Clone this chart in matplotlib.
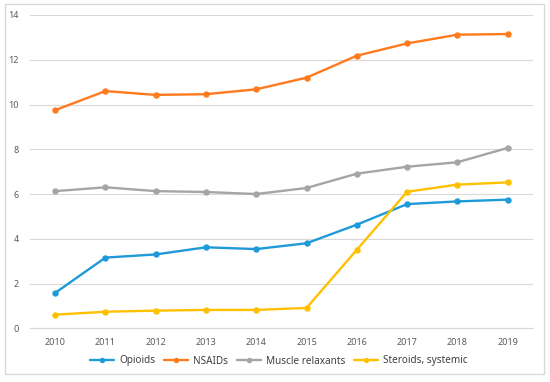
import matplotlib
matplotlib.use("Agg")
import matplotlib.pyplot as plt
from matplotlib.patches import Rectangle

plt.rcParams['font.family'] = ['Noto Sans', 'DejaVu Sans']

years = ["2010", "2011", "2012", "2013", "2014", "2015", "2016", "2017", "2018", "2019"]
opioids = [1.58, 3.16, 3.30, 3.62, 3.54, 3.80, 4.63, 5.55, 5.67, 5.75]
nsaids = [9.75, 10.60, 10.43, 10.46, 10.68, 11.20, 12.18, 12.73, 13.12, 13.15]
muscle_relaxants = [6.13, 6.30, 6.13, 6.09, 6.00, 6.27, 6.91, 7.22, 7.42, 8.06]
steroids = [0.61, 0.74, 0.79, 0.82, 0.82, 0.91, 3.51, 6.10, 6.42, 6.52]
yticks = [0, 2, 4, 6, 8, 10, 12, 14]

series = [
    ("Opioids", opioids, "#1F9AD9"),
    ("NSAIDs", nsaids, "#FF7A1F"),
    ("Muscle relaxants", muscle_relaxants, "#A5A5A5"),
    ("Steroids, systemic", steroids, "#FFC000"),
]

fig = plt.figure(figsize=(5.5, 3.82), dpi=100)
fig.patches.append(Rectangle((5 / 550, 1 - 374 / 382), (544 - 5) / 550, (374 - 4) / 382,
                             transform=fig.transFigure, fill=False, edgecolor="#D9D9D9",
                             linewidth=1.0))
ax = fig.add_axes([30 / 550, (382 - 328.3) / 382, (532.8 - 30) / 550, (328.3 - 15) / 382])

x = list(range(len(years)))
for name, vals, col in series:
    ax.plot(x, vals, color=col, linewidth=1.7, marker="o", markersize=3.6, label=name,
            solid_capstyle="round", zorder=3)

ax.set_xlim(-0.5, len(years) - 0.5)
ax.set_ylim(0, 14)
ax.set_yticks(yticks)
ax.set_yticklabels([str(t) for t in yticks])
ax.set_xticks(x)
ax.set_xticklabels(years)
ax.grid(axis="y", color="#D9D9D9", linewidth=0.8)
ax.set_axisbelow(True)
for s in ["top", "right", "left"]:
    ax.spines[s].set_visible(False)
ax.spines["bottom"].set_color("#D9D9D9")
ax.spines["bottom"].set_linewidth(0.8)
ax.tick_params(axis="both", length=0, labelsize=6.5, colors="#595959")
ax.tick_params(axis="y", pad=8)
ax.tick_params(axis="x", pad=7)

leg = fig.legend(loc="center", bbox_to_anchor=(279 / 550, 1 - 361 / 382), ncol=4,
                 frameon=False, fontsize=7.2, handlelength=2.4, columnspacing=0.9,
                 handletextpad=0.5, labelcolor="#404040", markerscale=0.8)

fig.savefig("out.png", dpi=100)
